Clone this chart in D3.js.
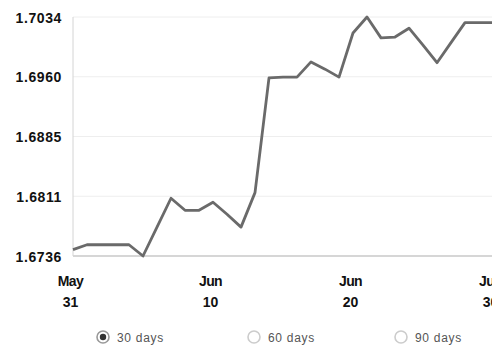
<!DOCTYPE html>
<html>
<head>
<meta charset="utf-8">
<script src="https://cdn.jsdelivr.net/npm/d3@7"></script>
<style>
  html, body { margin: 0; padding: 0; background: #fff; }
  svg { display: block; }
</style>
</head>
<body>
<svg id="chart" width="492" height="347"></svg>
<script>
// ---- data ----
const dates = [
  "2010-05-31","2010-06-01","2010-06-02","2010-06-03","2010-06-04","2010-06-05",
  "2010-06-06","2010-06-07","2010-06-08","2010-06-09","2010-06-10","2010-06-11",
  "2010-06-12","2010-06-13","2010-06-14","2010-06-15","2010-06-16","2010-06-17",
  "2010-06-18","2010-06-19","2010-06-20","2010-06-21","2010-06-22","2010-06-23",
  "2010-06-24","2010-06-25","2010-06-26","2010-06-27","2010-06-28","2010-06-29",
  "2010-06-30"
];
const rates = [
  1.6744, 1.6750, 1.6750, 1.6750, 1.6750, 1.6736,
  1.6772, 1.6808, 1.6793, 1.6793, 1.6803, 1.6788,
  1.6772, 1.6815, 1.6958, 1.6959, 1.6959, 1.6978,
  1.6969, 1.6959, 1.7014, 1.7034, 1.7008, 1.7009,
  1.7020, 1.6999, 1.6977, 1.7002, 1.7027, 1.7027,
  1.7027
];
const yTickValues = [1.6736, 1.68105, 1.6885, 1.69595, 1.7034];
const yTickLabels = ["1.6736", "1.6811", "1.6885", "1.6960", "1.7034"];
const xTickDates = ["2010-05-31", "2010-06-10", "2010-06-20", "2010-06-30"];
const xTickMonths = ["May", "Jun", "Jun", "Jun"];
const xTickDays = ["31", "10", "20", "30"];
const rangeOptions = ["30 days", "60 days", "90 days"];
const selectedOption = "30 days";

// ---- drawing ----
(function () {
const parse = d3.utcParse("%Y-%m-%d");
const data = dates.map((d, i) => ({ date: parse(d), value: rates[i] }));
const FONT = "'Liberation Sans', Arial, Helvetica, sans-serif";

const svg = d3.select("#chart");
const mLeft = 73, mRight = 493, mTop = 17, mBottom = 256;

const x = d3.scaleUtc()
  .domain([parse(dates[0]), parse(dates[dates.length - 1])])
  .range([mLeft, mRight]);
const y = d3.scaleLinear()
  .domain([yTickValues[0], yTickValues[yTickValues.length - 1]])
  .range([mBottom, mTop]);

// gridlines
svg.append("g").selectAll("line")
  .data(yTickValues)
  .join("line")
  .attr("x1", mLeft).attr("x2", 492)
  .attr("y1", d => y(d)).attr("y2", d => y(d))
  .attr("stroke", (d, i) => i === 0 ? "#c8c8c8" : "#eeeeee")
  .attr("stroke-width", (d, i) => i === 0 ? 1.5 : 1);

// y axis line
svg.append("line")
  .attr("x1", mLeft).attr("x2", mLeft)
  .attr("y1", mTop).attr("y2", mBottom)
  .attr("stroke", "#d4d4d4").attr("stroke-width", 1);

// y labels
const yAxis = d3.axisLeft(y)
  .tickValues(yTickValues)
  .tickFormat((d, i) => yTickLabels[i])
  .tickSize(0)
  .tickPadding(11);
const gy = svg.append("g").attr("transform", `translate(${mLeft},0)`).call(yAxis);
gy.select(".domain").remove();
gy.selectAll("text")
  .attr("font-family", FONT)
  .attr("font-size", 14)
  .attr("font-weight", "bold")
  .attr("letter-spacing", 0.6)
  .attr("dy", "0.36em")
  .attr("fill", "#111");

// x labels
const xt = svg.append("g");
xTickDates.forEach((d, i) => {
  const px = x(parse(d)) - 2.5;
  const t = xt.append("text")
    .attr("text-anchor", "middle")
    .attr("font-family", FONT)
    .attr("font-size", 14)
    .attr("font-weight", "bold")
    .attr("fill", "#111");
  t.append("tspan").attr("x", px).attr("y", 286).attr("letter-spacing", -0.6).text(xTickMonths[i]);
  t.append("tspan").attr("x", px).attr("y", 307).text(xTickDays[i]);
});

// line
const line = d3.line()
  .x(d => x(d.date))
  .y(d => y(d.value));
svg.append("path")
  .datum(data)
  .attr("d", line)
  .attr("fill", "none")
  .attr("stroke", "#6a6a6a")
  .attr("stroke-width", 2.8)
  .attr("stroke-linejoin", "round");

// radio options
const radioX = [103, 254, 401];
const radios = svg.append("g");
rangeOptions.forEach((opt, i) => {
  const g = radios.append("g");
  const sel = opt === selectedOption;
  g.append("circle")
    .attr("cx", radioX[i]).attr("cy", 337).attr("r", 6)
    .attr("fill", "#fff")
    .attr("stroke", sel ? "#999" : "#cccccc")
    .attr("stroke-width", 1.6);
  if (sel) {
    g.append("circle")
      .attr("cx", radioX[i]).attr("cy", 337).attr("r", 3.2)
      .attr("fill", "#333");
  }
  g.append("text")
    .attr("x", radioX[i] + 14).attr("y", 342)
    .attr("font-family", FONT)
    .attr("font-size", 12)
    .attr("letter-spacing", 0.7)
    .attr("fill", "#555")
    .text(opt);
});
})();
</script>
</body>
</html>
